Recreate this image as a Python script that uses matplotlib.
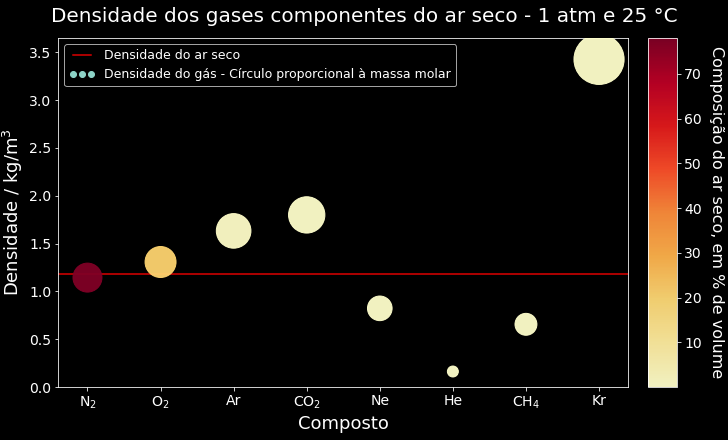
import matplotlib
matplotlib.use("Agg")
import matplotlib.pyplot as plt
from matplotlib.lines import Line2D

gases = ["N$_2$", "O$_2$", "Ar", "CO$_2$", "Ne", "He", "CH$_4$", "Kr"]
density = [1.145, 1.308, 1.633, 1.80, 0.824, 0.164, 0.657, 3.425]
molar_mass = [28.0, 32.0, 39.9, 44.0, 20.2, 4.0, 16.0, 83.8]
composition = [78.08, 20.95, 0.93, 0.04, 0.0018, 0.0005, 0.0002, 0.0001]
air_density = 1.184

plt.style.use("dark_background")
fig = plt.figure(figsize=(728 / 72, 440 / 72), dpi=72)
ax = fig.add_axes([0.08, 0.12, 0.783, 0.794])
cax = fig.add_axes([0.89, 0.12, 0.04, 0.794])

x = range(len(gases))
sc = ax.scatter(x, density, s=[m * 30 for m in molar_mass], c=composition,
                cmap="YlOrRd", zorder=3, alpha=0.95)
ax.axhline(air_density, color="#e00000", lw=1.5, zorder=2)
ax.set_xticks(list(x))
ax.set_xticklabels(gases)
ax.tick_params(labelsize=14)
ax.set_xlim(-0.4, 7.4)
ax.set_ylim(0, 3.65)
ax.set_xlabel("Composto", fontsize=18)
ax.set_ylabel("Densidade / kg/m$^3$", fontsize=18)
fig.suptitle("Densidade dos gases componentes do ar seco - 1 atm e 25 °C",
             fontsize=20, y=0.985)

handles = [Line2D([], [], color="#e00000", lw=1.5),
           Line2D([], [], ls="", marker="o", color="#8dd3c7", markersize=6)]
ax.legend(handles, ["Densidade do ar seco",
                    "Densidade do gás - Círculo proporcional à massa molar"],
          loc="upper left", fontsize=12.5, numpoints=3)

cb = fig.colorbar(sc, cax=cax)
cb.set_label("Composição do ar seco, em % de volume", fontsize=16,
             rotation=270, labelpad=22)
cb.ax.tick_params(labelsize=14)

fig.savefig("out.png")
